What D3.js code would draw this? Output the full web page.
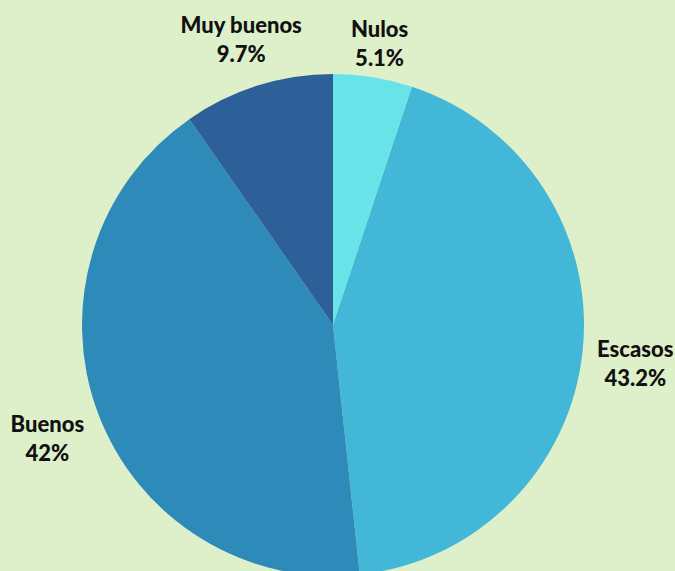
<!DOCTYPE html>
<html>
<head>
<meta charset="utf-8">
<script src="https://cdn.jsdelivr.net/npm/d3@7"></script>
<style>
  html, body { margin: 0; padding: 0; background: #DEF0C9; overflow: hidden; }
  svg { display: block; }
  .label { font-family: Lato, "DejaVu Sans", sans-serif; font-weight: 900; font-size: 22px; fill: #111; }
</style>
</head>
<body>
<svg id="chart" width="675" height="571"></svg>
<script>
const categories = ['Nulos', 'Escasos', 'Buenos', 'Muy buenos']
const values = [5.1, 43.2, 42, 9.7]
const valueLabels = ['5.1%', '43.2%', '42%', '9.7%']
const colors = ['#67E3E9', '#43B7D7', '#2E8AB9', '#2D5F99']

// label distance from centre, per slice (layout only)
const labelRadii = [292, 304, 305, 306]

const cx = 333, cy = 325
const radius = 251

const data = categories.map((c, i) => ({ name: c, value: values[i], label: valueLabels[i], color: colors[i] }))

const svg = d3.select('#chart')
const g = svg.append('g').attr('transform', `translate(${cx},${cy})`)

const pie = d3.pie().sort(null).value(d => d.value)
const arc = d3.arc().innerRadius(0).outerRadius(radius)

const arcs = pie(data)

g.selectAll('path.slice')
  .data(arcs)
  .enter()
  .append('path')
  .attr('class', 'slice')
  .attr('d', arc)
  .attr('fill', d => d.data.color)

const labels = g.selectAll('text.label')
  .data(arcs)
  .enter()
  .append('text')
  .attr('class', 'label')
  .attr('text-anchor', 'middle')
  .attr('transform', (d, i) => {
    const r = labelRadii[i]
    const [x, y] = d3.arc().innerRadius(r).outerRadius(r).centroid(d)
    return `translate(${x},${y})`
  })

labels.append('tspan')
  .attr('x', 0)
  .attr('dy', 0)
  .text(d => d.data.name)

labels.append('tspan')
  .attr('x', 0)
  .attr('dy', 29)
  .text(d => d.data.label)
</script>
</body>
</html>
